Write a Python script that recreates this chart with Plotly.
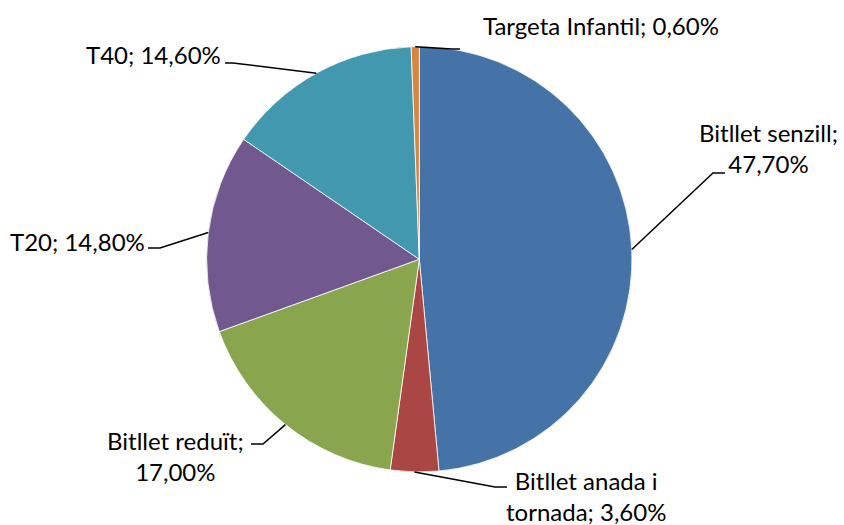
import math
import plotly.graph_objects as go

# ---- data ----
categories = ["Bitllet senzill", "Bitllet anada i tornada", "Bitllet reduït",
              "T20", "T40", "Targeta Infantil"]
values = [47.70, 3.60, 17.00, 14.80, 14.60, 0.60]
label_texts = ["Bitllet senzill;<br>47,70%", "Bitllet anada i<br>tornada; 3,60%",
               "Bitllet reduït;<br>17,00%", "T20; 14,80%", "T40; 14,60%",
               "Targeta Infantil; 0,60%"]
colors = ["#4572A7", "#AA4643", "#89A54E", "#71588F", "#4198AF", "#DB843D"]

# ---- layout (pixels) ----
W, H = 844, 525
CX, CY, R = 419.3, 259.3, 212.7
# label centre (x, y), elbow point, end point of leader near text
label_pos = [(768, 148), (586, 496), (175, 456), (77, 241), (153, 55), (601, 25)]
elbow_pos = [(713, 173), (495, 487), (263, 444), (160, 248), (233, 63), (452, 49)]
end_pos = [(725, 173), (507, 487), (251, 444), (148, 248), (225, 63), (460, 49)]

def px(x):
    return x / W

def py(y):
    return 1 - y / H

fig = go.Figure(go.Pie(
    labels=categories, values=values, sort=False, direction="clockwise",
    rotation=0, textinfo="none", hoverinfo="label+value",
    marker=dict(colors=colors, line=dict(color="white", width=0.8)),
    domain=dict(x=[(CX - R) / W, (CX + R) / W],
                y=[(H - CY - R) / H, (H - CY + R) / H]),
    showlegend=False,
))

total = sum(values)
shapes = []
annotations = []
cum = 0.0
for i, v in enumerate(values):
    mid = (cum + v / 2) / total * 2 * math.pi
    cum += v
    ax = CX + R * math.sin(mid)
    ay = CY - R * math.cos(mid)
    ex, ey = elbow_pos[i]
    tx, ty = end_pos[i]
    path = f"M {px(ax)},{py(ay)} L {px(ex)},{py(ey)} L {px(tx)},{py(ty)}"
    shapes.append(dict(type="path", xref="paper", yref="paper", path=path,
                       line=dict(color="black", width=1.5)))
    lx, ly = label_pos[i]
    annotations.append(dict(text=label_texts[i], x=px(lx), y=py(ly),
                            xref="paper", yref="paper", showarrow=False,
                            xanchor="center", yanchor="middle", align="center",
                            font=dict(family="Lato", size=24, color="black")))

fig.update_layout(
    width=W, height=H, margin=dict(l=0, r=0, t=0, b=0),
    paper_bgcolor="white", plot_bgcolor="white",
    shapes=shapes, annotations=annotations,
)

fig.write_html("out.html",
               config={"displayModeBar": False},
               post_script="document.body.style.margin='0';"
                           "document.body.style.overflow='hidden';")
